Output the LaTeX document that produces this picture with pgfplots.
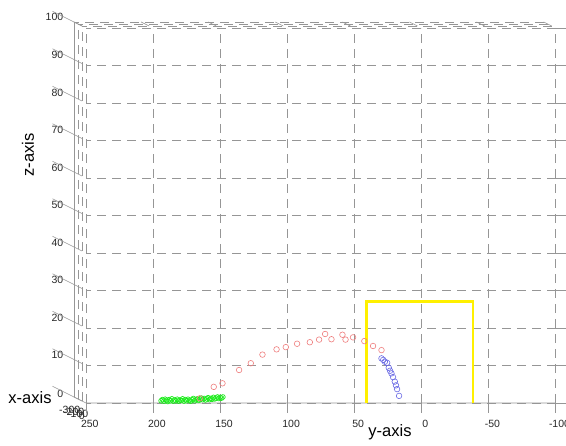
\documentclass[border=0pt]{standalone}
\usepackage{pgfplots}
\pgfplotsset{compat=1.18}
\usepackage{fontspec}
\setmainfont{Liberation Sans}
\definecolor{trajred}{RGB}{238,125,125}
\definecolor{trajblue}{RGB}{105,105,228}
\definecolor{trajgreen}{RGB}{30,235,30}
\definecolor{goalyellow}{RGB}{255,240,0}
\definecolor{gridgray}{RGB}{150,150,150}

\begin{document}
\begin{tikzpicture}
\begin{scope}[overlay]
\begin{axis}[
  x={(0.04pt,-0.02pt)}, y={(-1.342pt,0pt)}, z={(0pt,3.75pt)},
  xmin=-300, xmax=0, ymin=-100, ymax=250, zmin=0, zmax=100,
  xtick={-300,-200,-100,0}, ytick={-100,-50,...,250}, ztick={0,10,...,100},
  grid=major,
  major grid style={gridgray, dash pattern=on 9pt off 6pt, line width=0.6pt},
  axis line style={draw=none},
  tick pos=left, tick align=outside,
  tick style={gridgray, line width=0.6pt},
  xtick style={/pgfplots/major tick length=0pt},
  ytick style={/pgfplots/major tick length=0pt},
  ztick style={/pgfplots/major tick length=24pt},
  tick label style={font=\fontsize{10.5}{12}\selectfont, text=black!85},
  xticklabel style={anchor=north, yshift=-6pt},
  yticklabel style={anchor=north, yshift=-12pt},
  zticklabel style={xshift=-3pt, yshift=2pt},
  /pgf/number format/assume math mode=true,
  clip=false,
]
\coordinate (ref) at (axis cs:0,250,0);
\draw[gridgray, line width=0.6pt] (axis cs:-300,250,0) -- (axis cs:-300,250,100);
\draw[gridgray, line width=0.6pt] (axis cs:-300,250,0) -- (axis cs:0,250,0) -- (axis cs:0,-100,0);
\pgfplotsinvokeforeach{250,200,150,100,50,0,-50,-100}{
  \draw[gridgray, line width=0.6pt] (axis cs:0,#1,0) -- ++(0pt,-10pt);
}
\addplot3[only marks, mark=o, mark size=2.4pt, trajgreen, mark options={line width=0.7pt}] coordinates {
  (0,194,0.6) (0,193,0.9) (0,192,0.5) (0,191,1.0) (0,190,0.7) (0,189,0.4) (0,188,0.9)
  (0,187,0.6) (0,186,1.1) (0,185,0.5) (0,184,0.8) (0,183,0.6) (0,182,1.0) (0,181,0.5)
  (0,180,0.8) (0,179,0.7) (0,178,1.1) (0,177,0.5) (0,176,0.9) (0,175,0.6) (0,174,1.0)
  (0,173,0.7) (0,172,0.5) (0,171,0.9) (0,170,1.2) (0,169,0.6) (0,168,0.9) (0,167,1.1)
  (0,166,0.7) (0,165,1.0) (0,164,1.3) (0,163,0.9) (0,162,1.2) (0,161,0.8) (0,160,1.1)
  (0,159,1.4) (0,158,0.9) (0,157,1.2) (0,156,1.0) (0,155,1.5) (0,154,1.1) (0,153,1.3)
  (0,152,1.6) (0,151,1.2) (0,150,1.5) (0,149,1.3) (0,148,1.6)
};
\addplot3[only marks, mark=o, mark size=2.8pt, trajred, mark options={line width=0.6pt}] coordinates {
  (0,165.2,1.25) (0,154.8,4.3) (0,148.3,5.25) (0,135.9,8.8) (0,127.2,10.6) (0,118.5,12.9)
  (0,108,14.3) (0,101.1,14.9) (0,92.7,15.8) (0,83.2,16.2) (0,76.3,16.9) (0,71.8,18.4)
  (0,67.1,17.0) (0,58.9,18.2) (0,56.6,16.9) (0,51.0,17.5) (0,42.6,16.5) (0,36.1,15.2) (0,29.8,14.1)
};
\addplot3[only marks, mark=o, mark size=2.8pt, trajblue, mark options={line width=0.6pt}] coordinates {
  (0,29.8,11.9) (0,28.5,11.5) (0,27.3,11.0) (0,25.6,10.7) (0,24.4,9.4) (0,23.4,8.6)
  (0,22.4,7.9) (0,21.2,6.9) (0,19.9,5.7) (0,19.0,4.7) (0,18.2,3.7) (0,16.7,1.9)
};
\addplot3[goalyellow, line width=2.6pt] coordinates {
  (0,41,0) (0,41,27) (0,-38.5,27) (0,-38.5,0)
};
\node[font=\fontsize{16.5}{18}\selectfont, xshift=-56pt, yshift=5pt] at (axis cs:0,250,0) {x-axis};
\node[font=\fontsize{16.5}{18}\selectfont, xshift=304pt, yshift=-29pt] at (axis cs:0,250,0) {y-axis};
\node[font=\fontsize{16.5}{18}\selectfont, rotate=90, xshift=248pt, yshift=58pt] at (axis cs:0,250,0) {z-axis};
\end{axis}
\end{scope}
\path (ref) ++(-86pt,-43pt) rectangle ++(566pt,446pt);
\end{tikzpicture}
\end{document}
